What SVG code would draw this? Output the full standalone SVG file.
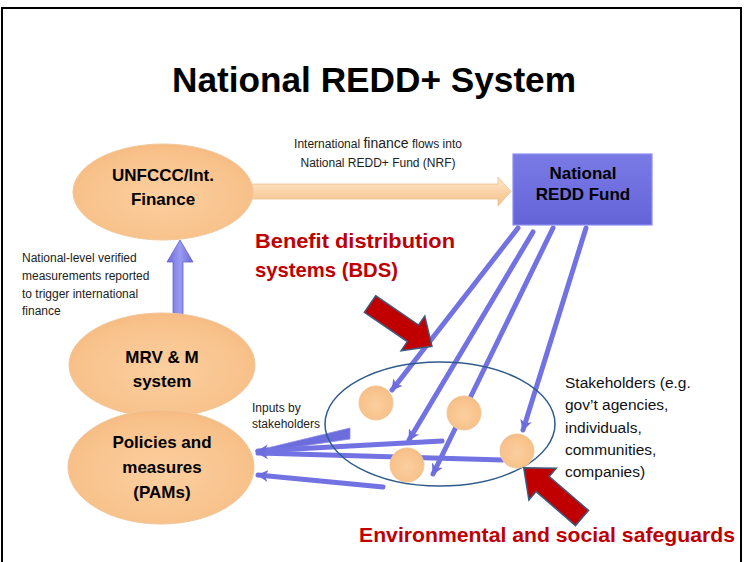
<svg xmlns="http://www.w3.org/2000/svg" width="749" height="562" viewBox="0 0 749 562">
<style>
.node{font-family:"Liberation Sans",Arial,sans-serif;font-weight:bold;font-size:17px;fill:#000;text-anchor:middle}
.small{font-family:"Liberation Sans",Arial,sans-serif;font-size:12px;fill:#222}
.med{font-family:"Liberation Sans",Arial,sans-serif;font-size:15.5px;fill:#111}
.red{font-family:"Liberation Sans",Arial,sans-serif;font-weight:bold;fill:#c00000}
.peach{fill:url(#peachG);stroke:#f1c79b;stroke-width:1}
.blue{stroke:#7272e2;stroke-width:5;fill:none;stroke-linecap:round}
.redarrow{fill:#c00000;stroke:#3d5a7f;stroke-width:1.5;stroke-linejoin:miter}
</style>
<defs>
<radialGradient id="peachG" cx="50%" cy="55%" r="60%">
<stop offset="0" stop-color="#fbcf9f"/>
<stop offset="0.8" stop-color="#f8c18a"/>
<stop offset="1" stop-color="#f3b57c"/>
</radialGradient>
<linearGradient id="finG" x1="0" y1="0" x2="0" y2="1">
<stop offset="0" stop-color="#fde6c8"/>
<stop offset="0.5" stop-color="#fad4a8"/>
<stop offset="1" stop-color="#f4bf8a"/>
</linearGradient>
<linearGradient id="upG" x1="0" y1="0" x2="1" y2="0">
<stop offset="0" stop-color="#6a6ad8"/>
<stop offset="0.5" stop-color="#9a9af0"/>
<stop offset="1" stop-color="#6a6ad8"/>
</linearGradient>
<linearGradient id="boxG" x1="0" y1="0" x2="0" y2="1">
<stop offset="0" stop-color="#7a7ae6"/>
<stop offset="1" stop-color="#6464d8"/>
</linearGradient>
<marker id="ah" markerWidth="14" markerHeight="14" refX="10" refY="7" orient="auto" markerUnits="userSpaceOnUse">
<path d="M0,1 L11,7 L0,13 L3,7 Z" fill="#6c6cdc"/>
</marker>
</defs>

<rect x="2" y="8" width="739" height="600" fill="#fff" stroke="#000" stroke-width="2"/>

<text x="374" y="92" font-family="Liberation Sans,Arial,sans-serif" font-weight="bold" font-size="35" text-anchor="middle" textLength="404" lengthAdjust="spacingAndGlyphs">National REDD+ System</text>

<g id="connectors">
<path d="M248,184 L498,184 L498,177 L511,191.5 L498,206 L498,199 L248,199 Z" fill="url(#finG)" stroke="#f0c08f" stroke-width="0.8"/>
<path d="M173,320 L173,262 L167,262 L180,240 L193,262 L183,262 L183,320 Z" fill="url(#upG)" stroke="#6565d5" stroke-width="0.8"/>
<line class="blue" x1="518" y1="228" x2="392" y2="390" marker-end="url(#ah)"/>
<line class="blue" x1="533" y1="232" x2="409" y2="440" marker-end="url(#ah)"/>
<line class="blue" x1="553" y1="228" x2="433" y2="474" marker-end="url(#ah)"/>
<line class="blue" x1="586" y1="228" x2="523" y2="430" marker-end="url(#ah)"/>
<polygon points="350,428 350,439 262,452 255,451" fill="#6c6cdc" stroke="#8a8aea" stroke-width="0.8"/>
<line class="blue" x1="442" y1="441" x2="258" y2="451" marker-end="url(#ah)"/>
<line class="blue" x1="503" y1="460" x2="258" y2="453" marker-end="url(#ah)"/>
<line class="blue" x1="383" y1="487" x2="258" y2="475" marker-end="url(#ah)"/>
</g>

<g id="stakeholder-group">
<ellipse cx="440" cy="424" rx="115" ry="62" fill="none" stroke="#2f5b8c" stroke-width="1.5"/>
</g>

<g id="stakeholder-circles">
<circle class="peach" cx="376" cy="403" r="17"/>
<circle class="peach" cx="464" cy="413" r="17"/>
<circle class="peach" cx="407" cy="465" r="17"/>
<circle class="peach" cx="517" cy="451" r="17"/>
</g>

<g id="unfccc">
<ellipse class="peach" cx="163" cy="192" rx="90" ry="48"/>
<text class="node" x="163" y="181">UNFCCC/Int.</text>
<text class="node" x="163" y="205">Finance</text>
</g>

<g id="mrv">
<ellipse class="peach" cx="162" cy="365" rx="93" ry="52"/>
<text class="node" x="162" y="363">MRV &amp; M</text>
<text class="node" x="162" y="387">system</text>
</g>

<g id="pams">
<ellipse class="peach" cx="161" cy="467" rx="93" ry="57"/>
<text class="node" x="162" y="448">Policies and</text>
<text class="node" x="162" y="473">measures</text>
<text class="node" x="162" y="498">(PAMs)</text>
</g>

<g id="fund">
<rect x="513" y="154" width="139" height="71" fill="url(#boxG)" stroke="#8e8ef0" stroke-width="1.2"/>
<text class="node" x="583" y="179" font-size="16">National</text>
<text class="node" x="583" y="200" font-size="16">REDD Fund</text>
</g>

<g id="labels">
<text class="small" x="22" y="262">National-level verified</text>
<text class="small" x="22" y="280">measurements reported</text>
<text class="small" x="22" y="298">to trigger international</text>
<text class="small" x="22" y="315">finance</text>

<text class="small" x="378" y="148" text-anchor="middle" font-size="11.5">International <tspan font-size="14">finance</tspan> flows into</text>
<text class="small" x="378" y="167" text-anchor="middle" font-size="11.5">National REDD+ Fund (NRF)</text>

<text class="small" x="252" y="412" font-size="11.5">Inputs by</text>
<text class="small" x="252" y="428" font-size="11.5">stakeholders</text>

<text class="med" x="565" y="388">Stakeholders (e.g.</text>
<text class="med" x="565" y="410">gov’t agencies,</text>
<text class="med" x="565" y="433">individuals,</text>
<text class="med" x="565" y="455">communities,</text>
<text class="med" x="565" y="477">companies)</text>

<text class="red" x="255" y="248" font-size="21" textLength="200" lengthAdjust="spacingAndGlyphs">Benefit distribution</text>
<text class="red" x="255" y="277" font-size="21" textLength="143" lengthAdjust="spacingAndGlyphs">systems (BDS)</text>
<text class="red" x="359" y="542" font-size="21" textLength="376" lengthAdjust="spacingAndGlyphs">Environmental and social safeguards</text>
</g>

<g id="red-arrows">
<polygon class="redarrow" transform="translate(370,304) rotate(34.3)" points="0,-10 52,-10 52,-21 75,0 52,21 52,10 0,10"/>
<polygon class="redarrow" transform="translate(582,518) rotate(220.8)" points="0,-10 52,-10 52,-21 77,0 52,21 52,10 0,10"/>
</g>
</svg>
